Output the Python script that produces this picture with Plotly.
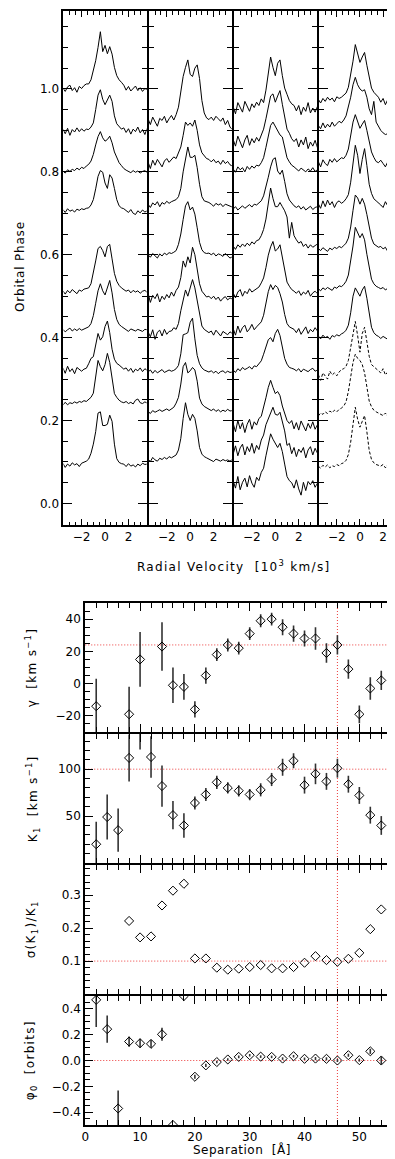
import plotly.graph_objects as go

W, H = 395, 1159
FONT = "DejaVu Sans"

# ---------------- top: line profiles ----------------
VEL = [-3.6, -3.4, -3.2, -3.0, -2.8, -2.6, -2.4, -2.2, -2.0, -1.8, -1.6,
       -1.4, -1.2, -1.0, -0.8, -0.6, -0.4, -0.2, 0.0, 0.2, 0.4, 0.6, 0.8, 1.0, 1.2, 1.4, 1.6,
       1.8, 2.0, 2.2, 2.4, 2.6, 2.8, 3.0, 3.2, 3.4, 3.6]

FLUX_SCALE = 0.01  # flux units -> phase units

P1_PHASE = [1.00, 0.90, 0.80, 0.705, 0.51, 0.418, 0.322, 0.24, 0.093]
P1_A = [0.2, -0.6, 0.5, 0.9, -0.4, 0.3, -0.8, 0.6, 0.1, 0.8, 1.2,
        1.2, 2.2, 4.4, 6.8, 10.0, 13.8, 9.0, 10.5, 8.5, 10.2, 8.4, 5.2, 3.2, 2.2, 1.6, 0.9,
        -0.3, 0.6, -0.5, 0.2, 0.7, -0.4, 0.3, -0.6, 0.1, -0.2]
P1_B = [0.3, -0.8, 0.5, -1.2, 0.2, -0.4, 0.6, -0.3, 0.4, -0.2, 0.3,
        0.2, 0.8, 1.8, 5.0, 8.5, 9.8, 7.5, 6.2, 7.2, 8.5, 7.0, 3.5, 1.6, 1.0, 0.3, 0.6,
        -0.5, 0.4, -0.9, 0.3, -0.3, 0.8, -0.6, 0.2, -1.0, 0.5]
P1_C = [0.2, -0.3, 0.5, 0.1, 0.6, 0.3, 0.9, 0.5, 1.1, 0.8, 1.4,
        1.8, 2.6, 4.2, 6.5, 8.5, 9.7, 8.2, 7.4, 7.8, 8.6, 7.0, 4.8, 3.4, 2.2, 1.5, 0.8,
        0.4, 0.1, -0.2, 0.3, -0.1, 0.2, -0.3, 0.1, 0.3, -0.2]
P1_D = [0.4, -0.3, 0.6, 0.0, 0.3, -0.2, 0.5, 0.2, 0.6, 0.4, 0.7,
        0.8, 1.5, 2.8, 5.4, 8.4, 9.8, 9.4, 6.8, 5.5, 8.8, 8.0, 5.5, 2.8, 1.3, 0.8, 0.6,
        0.2, -0.3, 0.4, -0.5, -0.8, 0.1, -0.4, 0.3, -0.2, 0.1]
P1_E = [0.3, -0.5, 0.4, -0.2, 0.6, 0.0, -0.4, 0.5, 0.2, 0.7, 0.8,
        1.0, 2.0, 4.5, 7.5, 10.5, 11.0, 10.0, 8.5, 11.0, 11.5, 8.0, 4.5, 2.6, 1.6, 1.0, 0.6,
        0.2, 0.5, -0.2, 0.4, 0.0, 0.3, -0.3, 0.2, 0.4, -0.1]
P1_F = [0.2, -0.4, 0.1, 0.5, -0.2, 0.3, -0.1, 0.4, 0.0, 0.3, 0.6,
        0.8, 1.6, 3.5, 6.5, 9.5, 11.2, 9.5, 8.5, 10.5, 12.0, 9.0, 5.0, 2.6, 1.4, 0.9, 0.5,
        0.2, -0.3, 0.3, 0.1, -0.2, 0.2, 0.0, -0.3, 0.2, 0.1]
P1_G = [0.5, -0.8, 0.9, -0.4, 0.3, -0.9, 0.6, 0.1, -0.3, 0.2, 0.4,
        1.5, 2.8, 3.2, 6.0, 8.8, 7.2, 8.0, 10.5, 11.8, 9.0, 5.0, 2.6, 1.6, 1.2, 0.8, 0.2,
        0.5, -0.3, 0.4, -0.6, 0.2, -0.2, 0.5, -0.4, 0.3, -0.1]
P1_H = [-0.3, 0.4, -0.2, 0.3, 0.1, 0.5, 0.2, 0.6, 0.4, 0.8, 0.6,
        1.0, 1.6, 2.6, 6.5, 10.5, 9.0, 8.0, 9.5, 12.2, 10.0, 6.2, 2.5, 1.6, 0.9, 0.5, 0.3,
        0.6, 0.1, 0.4, 0.0, 0.9, 1.2, 0.3, 0.1, 0.5, 0.2]
P1_I = [0.4, -0.6, 0.2, -0.3, 0.5, 0.0, 0.3, -0.4, 0.4, 0.6, 0.9,
        1.4, 2.8, 5.0, 8.0, 12.5, 12.8, 9.5, 9.5, 9.8, 12.0, 10.5, 5.0, 1.5, 0.6, 0.3, 0.2,
        -0.4, 0.3, -0.3, 0.0, -0.5, 0.2, -0.2, 0.4, 0.1, 0.2]

P2_PHASE = [0.92, 0.82, 0.72, 0.60, 0.49, 0.41, 0.317, 0.22, 0.105]
P2_A = [0.8, -0.6, 1.2, 0.2, -1.0, 0.9, 0.4, 1.4, -0.2, 0.8, 1.6,
        0.5, 1.8, 3.6, 7.0, 11.0, 13.2, 15.0, 11.5, 11.0, 13.0, 13.8, 10.5, 5.2, 2.2, 1.0, 0.6,
        1.2, 0.4, 1.4, 0.8, 0.2, 1.0, -0.6, 0.4, -1.2, -1.8]
P2_B = [0.4, -1.2, 0.8, -0.4, 1.0, 0.2, -0.8, 0.6, 1.2, 0.3, 1.0,
        1.6, 1.2, 2.6, 4.0, 6.8, 10.0, 9.2, 9.8, 9.0, 10.5, 8.0, 4.5, 2.6, 1.8, 1.2, 1.0,
        0.4, 1.0, 0.2, 0.6, -0.2, 0.8, 0.0, 0.5, -0.3, -0.6]
P2_C = [0.2, -0.6, 0.5, 0.0, 0.8, -0.4, 0.6, 0.2, 0.9, 0.4, 0.8,
        1.0, 1.3, 2.0, 4.0, 8.0, 11.5, 14.0, 11.5, 11.5, 12.0, 9.0, 5.0, 2.0, 1.0, 0.8, 0.6,
        0.2, -0.3, 0.4, 0.0, 0.3, -0.4, 0.2, 0.0, -0.2, -0.5]
P2_D = [0.0, -0.6, 0.3, -0.2, -0.8, 0.2, -0.3, 0.4, 0.0, 0.5, 0.3,
        0.6, 1.0, 2.5, 5.0, 8.5, 11.8, 12.8, 10.8, 11.5, 9.8, 6.5, 3.0, 1.2, 0.5, 0.3, 0.4,
        0.0, 0.4, -0.3, 0.2, 0.0, -0.4, 0.3, -0.2, -0.8, -0.5]
P2_E = [1.8, -0.5, 1.2, 0.4, 1.6, -0.4, 1.0, 0.2, 1.4, 0.6, 2.0,
        1.0, 2.4, 3.2, 5.5, 9.5, 8.0, 10.5, 9.0, 12.8, 11.0, 7.0, 4.0, 2.2, 1.5, 0.8, 1.0,
        0.4, 1.0, 0.2, 0.8, -0.2, 0.5, 0.9, 0.1, 0.6, 0.3]
P2_F = [0.4, -0.8, 0.9, -1.4, 0.3, 0.8, -0.6, 1.0, -0.2, 0.5, 0.6,
        1.4, 1.0, 2.4, 5.5, 8.0, 10.5, 9.0, 11.0, 13.0, 11.0, 8.0, 4.5, 1.8, 1.0, 0.6, 0.2,
        0.6, -0.4, 0.8, 0.1, -0.6, 0.5, 0.2, -0.3, 0.4, 0.0]
P2_G = [0.0, 0.5, -0.3, 0.4, -0.2, 0.2, 0.6, -0.1, 0.3, 0.5, 0.2,
        0.4, 0.8, 1.6, 4.4, 9.0, 9.2, 9.5, 12.0, 13.0, 8.0, 4.0, 2.0, 1.0, 0.5, 0.3, 0.0,
        0.3, -0.2, 0.2, -0.4, 0.1, 0.3, -0.2, 0.2, -0.1, 0.0]
P2_H = [0.2, -0.3, 0.4, 0.0, 0.3, 0.6, 0.2, 0.5, 0.8, 0.4, 0.9,
        1.2, 2.2, 3.6, 6.8, 11.0, 12.0, 9.5, 10.0, 10.8, 10.2, 7.5, 3.4, 2.0, 1.4, 1.0, 0.6,
        0.4, 0.8, 0.2, 0.6, 0.1, 0.5, 0.2, 0.7, 0.3, 0.4]
P2_I = [0.2, -0.4, 0.6, 0.0, -0.3, 0.4, 0.1, 0.6, 0.2, 0.8, 0.5,
        0.9, 1.2, 2.4, 5.2, 10.0, 13.8, 11.0, 9.5, 11.0, 10.0, 7.0, 3.0, 1.4, 0.8, 0.5, 0.2,
        -0.2, -0.4, 0.2, -0.1, -0.3, 0.1, -0.2, 0.0, -0.3, 0.1]

P3_PHASE = [0.952, 0.868, 0.804, 0.712, 0.616, 0.504, 0.416, 0.32, 0.185, 0.125, 0.045]
P3_A = [0.5, -1.2, 1.5, 0.2, -0.8, 1.8, 0.4, -0.6, 1.2, 0.3, 1.6,
        0.8, 2.4, 1.5, 4.5, 8.5, 12.5, 10.0, 8.0, 11.0, 11.8, 8.0, 5.0, 3.5, 2.0, 1.2, 0.8,
        -0.5, 0.8, -1.4, 0.4, -0.6, 1.5, -1.0, 0.2, -0.8, 0.6]
P3_B = [1.0, -0.6, 1.8, 0.4, -1.0, 0.9, 2.0, -0.4, 1.2, 0.2, 1.5,
        0.6, 2.2, 3.5, 6.0, 9.0, 11.5, 12.0, 10.0, 11.5, 12.8, 9.5, 6.0, 3.5, 2.5, 1.2, 0.5,
        1.2, -0.8, 0.9, -0.3, 1.6, -1.2, 0.4, -0.6, 0.8, -1.0]
P3_C = [0.3, -0.5, 0.8, 0.1, 0.6, -0.4, 0.9, 0.2, 1.0, 0.5, 1.2,
        1.0, 1.8, 3.0, 5.5, 8.5, 10.8, 11.6, 10.5, 9.5, 8.5, 8.0, 5.5, 3.0, 2.0, 1.2, 0.8,
        0.4, -0.2, 0.5, 0.0, -0.4, 0.3, -0.2, 0.6, -0.3, 0.1]
P3_D = [-0.2, 0.4, -0.4, 0.2, 0.6, 0.0, 0.5, 0.9, 0.3, 1.0, 0.8,
        1.2, 1.8, 3.0, 5.0, 7.5, 10.0, 11.8, 12.2, 9.0, 8.2, 9.2, 6.5, 3.5, 2.0, 1.2, 0.6,
        0.2, 0.6, -0.2, 0.4, -0.4, 0.1, 0.5, -0.3, 0.2, 0.4]
P3_E = [0.5, -0.3, 0.8, 0.2, 1.0, 0.4, 1.2, 0.6, 1.5, 1.0, 1.8,
        2.0, 3.0, 4.5, 7.0, 11.0, 14.5, 12.0, 10.0, 10.0, 11.0, 10.0, 9.0, 7.5, 2.4, 6.2, 3.0,
        2.0, 1.2, 1.6, 0.4, 1.0, 0.0, 0.8, 0.2, 0.6, 1.0]
P3_F = [0.4, -0.8, 0.6, 1.2, -0.4, 0.8, 0.2, 1.4, 0.6, 1.0, 1.6,
        1.8, 2.8, 4.0, 6.5, 9.5, 11.5, 12.8, 10.5, 11.0, 12.0, 9.0, 5.5, 3.0, 2.0, 1.2, 0.8,
        0.3, 0.9, -0.2, 0.6, 0.1, 1.0, -0.4, 0.4, 0.8, 0.2]
P3_G = [0.6, -1.0, 1.2, -0.4, 0.8, 1.4, -0.2, 0.5, 1.6, 0.3, 1.0,
        1.6, 2.2, 3.8, 6.5, 9.5, 11.2, 10.0, 11.0, 10.5, 9.0, 7.0, 4.0, 1.8, 1.0, 0.6, 0.4,
        -0.4, 0.6, -0.8, 0.2, 1.0, -0.6, 0.4, -0.2, 0.8, 0.0]
P3_H = [0.2, -0.4, 0.5, 0.0, 0.8, 0.3, 0.6, 1.0, 0.4, 1.2, 1.0,
        1.6, 2.4, 4.0, 6.0, 7.5, 8.0, 7.0, 9.0, 10.0, 8.5, 5.5, 3.0, 1.6, 0.8, 0.6, 0.4,
        0.0, 0.5, -0.3, 0.4, 0.1, -0.2, 0.3, 0.6, -0.1, 0.2]
P3_I = [0.8, -1.2, 1.5, -0.5, 1.0, -1.4, 0.6, 1.8, -0.6, 1.2, 0.4,
        2.0, 2.5, 4.5, 7.0, 9.5, 11.2, 9.5, 8.0, 8.5, 7.5, 5.0, 3.0, 1.5, 0.8, 1.5, -0.5,
        1.0, -0.8, 1.4, 0.2, -1.0, 0.8, -0.4, 1.2, -0.6, 0.5]
P3_J = [-0.6, 1.4, -1.0, 0.9, 1.8, -0.8, 1.2, 0.0, 2.0, -0.4, 1.5,
        0.5, 2.8, 4.0, 6.5, 8.0, 9.5, 10.7, 9.0, 8.8, 9.5, 7.5, 5.0, 1.5, 2.0, -0.5, 1.0,
        -1.2, 0.6, -0.2, 1.0, -1.5, 0.4, 1.2, -0.8, 0.8, -0.4]
P3_K = [1.0, -0.8, 2.0, -1.2, 0.6, 1.6, -0.5, 2.2, 0.4, -0.6, 1.8,
        1.0, 3.0, 4.0, 7.0, 10.0, 12.3, 11.0, 10.0, 9.0, 10.0, 8.0, 5.0, 2.0, 1.0, 0.5, -0.8,
        1.2, -1.0, -2.5, 0.6, -1.4, 0.8, 0.0, 1.0, -0.6, 0.4]

P4_PHASE = [0.972, 0.90, 0.82, 0.72, 0.612, 0.516, 0.40, 0.305, 0.215, 0.088]
P4_DASHED = [False, False, False, False, False, False, False, True, True, True]
P4_A = [0.3, -0.6, 0.5, -0.2, 0.8, 0.1, 0.6, -0.3, 0.9, 0.5, 0.8,
        1.2, 1.8, 3.2, 6.0, 9.5, 13.5, 11.0, 9.2, 10.5, 11.6, 8.5, 5.5, 3.0, 2.0, 1.5, 0.8,
        -0.4, 0.5, -1.0, 0.2, -0.6, 0.8, -1.2, -0.2, 0.4, -0.8]
P4_B = [1.2, 0.4, 1.8, 0.6, 1.5, 0.8, 2.0, 1.0, 1.6, 2.2, 1.8,
        2.5, 3.5, 5.5, 8.0, 11.0, 12.8, 11.0, 10.0, 9.5, 9.8, 8.0, 5.2, 3.8, 7.0, 2.0, 1.0,
        0.0, -0.6, -1.0, -0.8, -1.5, -1.2, -2.0, -1.6, -2.2, -2.0]
P4_C = [0.5, -0.8, 0.9, 0.0, -0.5, 1.0, 0.3, 1.2, 0.4, 0.8, 1.4,
        1.2, 2.0, 3.5, 6.5, 10.0, 11.8, 10.0, 8.5, 9.5, 10.4, 8.0, 5.5, 2.8, 1.5, 0.5, 0.2,
        0.8, 0.0, -0.8, 0.4, -0.3, -1.0, 0.2, -0.4, -1.2, -0.6]
P4_D = [0.3, -0.8, 1.0, -0.4, 1.2, 0.0, 0.8, -0.6, 0.6, 1.0, 0.4,
        0.8, 1.5, 2.5, 5.5, 10.5, 14.4, 12.0, 7.6, 11.0, 13.6, 9.5, 5.0, 2.8, 1.5, 1.0, 0.6,
        0.0, -0.6, 0.8, -0.2, 0.5, -1.0, 0.3, -0.4, 0.6, -0.8]
P4_E = [0.3, -0.2, 0.5, 0.1, -0.4, 0.4, 0.0, 0.6, 0.3, 0.8, 0.5,
        1.0, 1.6, 2.8, 5.5, 9.5, 13.2, 12.5, 11.0, 12.4, 11.0, 8.5, 5.5, 2.8, 1.4, 1.0, 0.6,
        0.8, 0.2, 0.6, -0.4, 0.3, -1.5, 0.5, -0.2, 0.4, 0.1]
P4_F = [0.2, -0.3, 0.4, 0.0, 0.5, 0.2, -0.2, 0.6, 0.3, 0.9, 0.7,
        1.2, 2.0, 3.5, 6.5, 10.5, 15.0, 13.5, 12.5, 13.5, 12.0, 8.5, 5.0, 2.5, 1.4, 0.8, 0.5,
        0.2, 0.5, -0.1, 0.3, 0.0, -0.3, 0.4, 0.1, -0.2, 0.3]
P4_G = [0.4, -0.3, 0.6, 0.0, 0.3, -0.4, 0.5, 0.2, 0.7, 0.4, 0.9,
        1.2, 1.8, 3.0, 6.0, 10.0, 12.0, 11.0, 10.0, 11.5, 12.4, 9.5, 5.5, 2.5, 1.2, 0.6, 0.3,
        -0.2, 0.3, 0.0, -0.4, 0.2, -0.1, 0.4, -0.3, 0.1, 0.3]
P4_H = [0.6, -0.8, 1.0, 0.2, -0.5, 1.4, 0.5, 1.0, 0.3, 1.2, 1.8,
        2.0, 2.6, 4.0, 7.5, 11.0, 13.4, 10.0, 6.0, 10.5, 12.0, 8.5, 5.0, 3.0, 2.5, 2.0, 1.5,
        1.0, 2.0, 0.5, 1.2, -0.2, 0.8, 1.5, 0.0, 0.6, -0.4]
P4_I = [-0.4, 0.3, 0.0, 0.6, 0.2, 0.8, 0.4, 1.0, 0.6, 1.2, 1.5,
        2.0, 3.0, 5.5, 9.0, 12.5, 14.5, 13.5, 13.0, 12.0, 10.0, 6.5, 3.2, 1.8, 1.0, 0.6, 0.3,
        0.2, -0.3, 0.3, -0.5, 0.0, -0.2, -0.6, -0.3, -0.5, -0.8]
P4_J = [0.2, -0.3, 0.4, 0.0, 0.5, -0.2, 0.3, 0.1, 0.6, 0.3, 0.8,
        1.0, 1.6, 3.0, 6.0, 10.5, 14.4, 11.5, 9.6, 11.0, 12.4, 8.5, 4.0, 1.8, 1.0, 0.6, 0.4,
        0.2, 0.6, -0.2, 0.5, 0.0, 0.8, -0.3, 0.4, -1.5, -14.0]

PANEL_SPECTRA = [
    (P1_PHASE, [P1_A, P1_B, P1_C, P1_D, P1_E, P1_F, P1_G, P1_H, P1_I], [False] * 9),
    (P2_PHASE, [P2_A, P2_B, P2_C, P2_D, P2_E, P2_F, P2_G, P2_H, P2_I], [False] * 9),
    (P3_PHASE, [P3_A, P3_B, P3_C, P3_D, P3_E, P3_F, P3_G, P3_H, P3_I, P3_J, P3_K], [False] * 11),
    (P4_PHASE, [P4_A, P4_B, P4_C, P4_D, P4_E, P4_F, P4_G, P4_H, P4_I, P4_J], P4_DASHED),
]

VEL_TICKS = [-2, 0, 2]
PHASE_TICKS = [0.0, 0.2, 0.4, 0.6, 0.8, 1.0]

# ---------------- bottom: fit parameters vs separation ----------------
SEP = [2, 4, 6, 8, 10, 12, 14, 16, 18, 20, 22, 24, 26, 28, 30, 32, 34, 36, 38, 40,
       42, 44, 46, 48, 50, 52, 54]
GAMMA = [-14, None, None, -19, 15, None, 23, -1, -2, -16, 5, 18, 24, 22, 31, 39, 40, 35,
         31, 28, 28, 19, 24, 9, -19, -3, 2]
GAMMA_ERR = [17, 0, 0, 17, 17, 0, 15, 11, 8, 5, 5, 4, 4, 4, 4, 4, 4, 5, 5, 5, 7, 6, 6, 6,
             5.5, 7, 6]
K1 = [20, 49, 35, 112, 146, 113, 82, 51, 40, 64, 73, 86, 80, 77, 73, 78, 89, 102, 109, 83,
      95, 87, 101, 84, 72, 51, 40]
K1_ERR = [24, 24, 23, 25, 25, 22, 22, 15, 13, 7, 7, 7, 6, 6, 6, 7, 7, 9, 8, 9, 11, 9, 10,
          9, 9, 9, 10]
SIGMA_REL = [None, None, None, 0.222, 0.172, 0.175, 0.269, 0.314, 0.335, 0.108, 0.108,
             0.080, 0.074, 0.077, 0.082, 0.088, 0.078, 0.078, 0.082, 0.095, 0.115, 0.103,
             0.098, 0.107, 0.125, 0.197, 0.257]
PHI0 = [0.47, 0.243, -0.372, 0.147, 0.134, 0.129, 0.203, -0.5, 0.5, -0.126, -0.038,
        -0.012, 0.008, 0.028, 0.041, 0.03, 0.028, 0.015, 0.033, 0.013, 0.015, 0.013, 0.0,
        0.041, 0.003, 0.071, 0.0]
PHI0_ERR = [0.21, 0.105, 0.14, 0.04, 0.035, 0.03, 0.05, 0.0, 0.0, 0.015, 0.012, 0.01,
            0.01, 0.01, 0.01, 0.01, 0.01, 0.01, 0.01, 0.01, 0.012, 0.012, 0.012, 0.012,
            0.012, 0.02, 0.03]

REF_GAMMA = 24
REF_K1 = 100
REF_SIGMA = 0.1
REF_PHI = 0.0
REF_SEP = 46

# ---------------- layout geometry (pixels) ----------------
LW = 2          # frame line width (integer so shared frame lines coincide crisply)
HALF = LW / 2


def px_x(p):
    return p / W


def px_y(p):
    return 1 - p / H


TOP_EDGES = [51, 137, 223, 309, 394]
TOP_Y = (2, 518)
BOT_X = (73, 389)
BOT_ROWS = [(594, 725), (725, 856), (856, 987), (987, 1118)]

fig = go.Figure()
LINE = "black"

# top spectra
for k, (phases, fluxes, dashed) in enumerate(PANEL_SPECTRA):
    xa = "x" if k == 0 else f"x{k+1}"
    ya = "y" if k == 0 else f"y{k+1}"
    for ph, fl, ds in zip(phases, fluxes, dashed):
        fig.add_trace(go.Scatter(
            x=VEL, y=[ph + FLUX_SCALE * f for f in fl], mode="lines",
            line=dict(color=LINE, width=1, dash="3px,2px" if ds else "solid"),
            xaxis=xa, yaxis=ya, showlegend=False, hoverinfo="skip"))

# bottom panels
MK = dict(symbol="diamond-open", size=7, color="black", line=dict(width=1, color="black"))


def err(arr):
    return dict(type="data", array=arr, visible=True, color="#333", thickness=1.6, width=0)


fig.add_trace(go.Scatter(x=SEP, y=GAMMA, mode="markers", marker=MK, error_y=err(GAMMA_ERR),
                         xaxis="x5", yaxis="y5", showlegend=False))
fig.add_trace(go.Scatter(x=SEP, y=K1, mode="markers", marker=MK, error_y=err(K1_ERR),
                         xaxis="x6", yaxis="y6", showlegend=False))
fig.add_trace(go.Scatter(x=SEP, y=SIGMA_REL, mode="markers", marker=MK,
                         xaxis="x7", yaxis="y7", showlegend=False))
fig.add_trace(go.Scatter(x=SEP, y=PHI0, mode="markers", marker=MK, error_y=err(PHI0_ERR),
                         xaxis="x8", yaxis="y8", showlegend=False))

TF = dict(family=FONT, size=12, color="black")


def axis_common():
    return dict(showline=True, linecolor=LINE, linewidth=LW, mirror="ticks",
                ticks="inside", tickcolor=LINE, tickwidth=1, showgrid=False,
                zeroline=False, tickfont=TF, fixedrange=True)


layout = dict(width=W, height=H, margin=dict(l=0, r=0, t=0, b=0),
              paper_bgcolor="white", plot_bgcolor="white", showlegend=False)

# top axes (domains inset by half a line width so shared frame lines coincide)
for k in range(4):
    xn = "xaxis" if k == 0 else f"xaxis{k+1}"
    yn = "yaxis" if k == 0 else f"yaxis{k+1}"
    ya = "y" if k == 0 else f"y{k+1}"
    xa = "x" if k == 0 else f"x{k+1}"
    ax = axis_common()
    ax.update(domain=[px_x(TOP_EDGES[k] + HALF), px_x(TOP_EDGES[k + 1] - HALF)],
              range=[-3.55, 3.55], anchor=ya, tickmode="array", tickvals=VEL_TICKS,
              ticklen=6,
              minor=dict(dtick=0.5, tick0=0, ticks="inside", ticklen=3.5,
                         tickcolor=LINE, tickwidth=1))
    layout[xn] = ax
    ay = axis_common()
    ay.update(domain=[px_y(TOP_Y[1] - HALF), px_y(TOP_Y[0] + HALF)], range=[-0.052, 1.188],
              anchor=xa, tickmode="array", tickvals=PHASE_TICKS,
              ticktext=[f"{v:.1f}" for v in PHASE_TICKS], ticklen=9,
              showticklabels=(k == 0),
              minor=dict(dtick=0.05, tick0=0, ticks="inside", ticklen=5,
                         tickcolor=LINE, tickwidth=1))
    layout[yn] = ay

# bottom axes
Y_SPECS = [
    dict(range=[-30, 50], tickvals=[-20, 0, 20, 40], minor_dtick=5),
    dict(range=[0, 137.5], tickvals=[50, 100], minor_dtick=10),
    dict(range=[0, 0.392], tickvals=[0.1, 0.2, 0.3], minor_dtick=0.02),
    dict(range=[-0.5, 0.5], tickvals=[-0.4, -0.2, 0.0, 0.2, 0.4], minor_dtick=0.05),
]
Y_TEXT = [None, None, ["0.1", "0.2", "0.3"], ["−0.4", "−0.2", "0.0", "0.2", "0.4"]]
for i in range(4):
    n = i + 5
    ax = axis_common()
    ax.update(domain=[px_x(BOT_X[0] + HALF), px_x(BOT_X[1] - HALF)], range=[0, 56.7],
              anchor=f"y{n}", dtick=10, tick0=0, ticklen=8, showticklabels=(i == 3),
              minor=dict(dtick=2, tick0=0, ticks="inside", ticklen=5,
                         tickcolor=LINE, tickwidth=1))
    if i > 0:
        ax["matches"] = "x5"
    layout[f"xaxis{n}"] = ax
    s = Y_SPECS[i]
    ay = axis_common()
    ay.update(domain=[px_y(BOT_ROWS[i][1] - HALF), px_y(BOT_ROWS[i][0] + HALF)],
              range=s["range"], anchor=f"x{n}", tickmode="array", tickvals=s["tickvals"],
              ticklen=8,
              minor=dict(dtick=s["minor_dtick"], tick0=0, ticks="inside", ticklen=5,
                         tickcolor=LINE, tickwidth=1))
    if Y_TEXT[i]:
        ay["ticktext"] = Y_TEXT[i]
    layout[f"yaxis{n}"] = ay

fig.update_layout(**layout)

# reference lines (red dotted)
RED = dict(color="rgba(235,50,50,0.95)", width=1, dash="1px,2px")
for n, val in zip([5, 6, 7, 8], [REF_GAMMA, REF_K1, REF_SIGMA, REF_PHI]):
    fig.add_shape(type="line", xref=f"x{n} domain", yref=f"y{n}", x0=0, x1=1, y0=val, y1=val,
                  line=RED, layer="below")
for n in [5, 6, 7, 8]:
    fig.add_shape(type="line", xref=f"x{n}", yref=f"y{n} domain", x0=REF_SEP, x1=REF_SEP,
                  y0=0, y1=1, line=RED, layer="below")

# titles
AF = dict(family=FONT, size=12, color="black")


def ann(text, xp, yp, angle=0, spacing=1.2):
    fig.add_annotation(text=f"<span style='letter-spacing:{spacing}px'>{text}</span>",
                       x=px_x(xp), y=px_y(yp), xref="paper", yref="paper",
                       showarrow=False, textangle=angle, font=AF,
                       xanchor="center", yanchor="middle")


ann("Orbital Phase", 8, 258, -90, 0.8)
ann("Radial Velocity  [10<sup>3</sup> km/s]", 224, 558, 0, 1.3)
ann("γ  [km s<sup>−1</sup>]", 19, (BOT_ROWS[0][0] + BOT_ROWS[0][1]) / 2, -90, 1.3)
ann("K<sub>1</sub>  [km s<sup>−1</sup>]", 21, (BOT_ROWS[1][0] + BOT_ROWS[1][1]) / 2, -90, 1.3)
ann("σ(K<sub>1</sub>)/K<sub>1</sub>", 20, (BOT_ROWS[2][0] + BOT_ROWS[2][1]) / 2, -90, 1.3)
ann("φ<sub>0</sub>  [orbits]", 19, (BOT_ROWS[3][0] + BOT_ROWS[3][1]) / 2, -90, 1.3)
ann("Separation  [Å]", 232, 1141, 0, 0.5)

fig.write_html("out.html")
